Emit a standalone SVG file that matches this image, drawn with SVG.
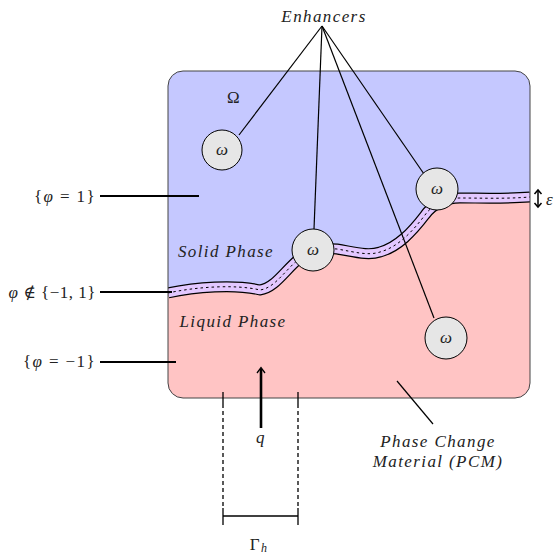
<svg xmlns="http://www.w3.org/2000/svg" width="554" height="556" viewBox="0 0 554 556">
<style>
text{font-family:"Liberation Serif","DejaVu Serif",serif;font-size:17px;fill:#222;letter-spacing:1.4px}
.it{font-style:italic}
.ln{stroke:#000;stroke-width:1.2;fill:none}
.thk{stroke:#000;stroke-width:2;fill:none}
.enh circle{fill:#e6e6e6;stroke:#000;stroke-width:1}
.enh text{letter-spacing:0}
</style>
<defs>
<clipPath id="box"><rect x="168" y="71" width="362" height="327" rx="15"/></clipPath>
</defs>
<g id="domain">
<rect x="168" y="71" width="362" height="327" rx="15" fill="#c5c8ff"/>
<g clip-path="url(#box)">
<path d="M168,293 C195,287 235,284 260,290 C275,288 285,270 300,258 C310,250 322,248 337,249 C355,252 368,256 380,252 C398,247 412,232 425,215 C432,205 445,198 460,198 C480,198 505,199 530,197 L530,400 L168,400 Z" fill="#ffc4c4"/>
<path d="M168,293 C195,287 235,284 260,290 C275,288 285,270 300,258 C310,250 322,248 337,249 C355,252 368,256 380,252 C398,247 412,232 425,215 C432,205 445,198 460,198 C480,198 505,199 530,197" fill="none" stroke="#000" stroke-width="11"/>
<path d="M168,293 C195,287 235,284 260,290 C275,288 285,270 300,258 C310,250 322,248 337,249 C355,252 368,256 380,252 C398,247 412,232 425,215 C432,205 445,198 460,198 C480,198 505,199 530,197" fill="none" stroke="#e3c8ff" stroke-width="8.6"/>
<path d="M168,293 C195,287 235,284 260,290 C275,288 285,270 300,258 C310,250 322,248 337,249 C355,252 368,256 380,252 C398,247 412,232 425,215 C432,205 445,198 460,198 C480,198 505,199 530,197" fill="none" stroke="#000" stroke-width="1" stroke-dasharray="2.5,3"/>
</g>
<rect x="168" y="71" width="362" height="327" rx="15" fill="none" stroke="#444" stroke-width="1"/>
<text x="234" y="103" text-anchor="middle">Ω</text>
<text class="it" x="226" y="257" text-anchor="middle">Solid Phase</text>
<text class="it" x="233" y="327" text-anchor="middle">Liquid Phase</text>
</g>
<g id="connectors">
<line class="ln" x1="322" y1="26" x2="239" y2="135"/>
<line class="ln" x1="322" y1="26" x2="314" y2="229"/>
<line class="ln" x1="322" y1="26" x2="424" y2="174"/>
<line class="ln" x1="322" y1="26" x2="434" y2="318"/>
<line class="thk" x1="100" y1="196" x2="199" y2="196"/>
<line class="thk" x1="100" y1="292" x2="172" y2="292"/>
<line class="thk" x1="100" y1="362" x2="176" y2="362"/>
<line class="ln" x1="397" y1="381" x2="433" y2="424"/>
<line x1="261" y1="428" x2="261" y2="369" stroke="#000" stroke-width="2.6"/>
<path d="M257,373 L261,367.5 L265,373" fill="none" stroke="#000" stroke-width="1.3"/>
<line x1="538" y1="191" x2="538" y2="206" stroke="#000" stroke-width="1.5"/>
<path d="M534.5,194 L538,190 L541.5,194 M534.5,203 L538,207 L541.5,203" fill="none" stroke="#000" stroke-width="1.5"/>
<g stroke="#000" stroke-width="1.3">
<line x1="223" y1="392" x2="223" y2="404"/>
<line x1="298" y1="392" x2="298" y2="404"/>
<line x1="223" y1="404" x2="223" y2="508" stroke-dasharray="4,3"/>
<line x1="298" y1="404" x2="298" y2="508" stroke-dasharray="4,3"/>
<line x1="223" y1="508" x2="223" y2="525"/>
<line x1="298" y1="508" x2="298" y2="525"/>
<line x1="223" y1="516" x2="298" y2="516"/>
</g>
</g>
<g id="enhancers" class="enh">
<g id="w1"><circle cx="222" cy="150" r="20"/><text class="it" x="222" y="155" text-anchor="middle">ω</text></g>
<g id="w2"><circle cx="313" cy="250" r="21"/><text class="it" x="313" y="255" text-anchor="middle">ω</text></g>
<g id="w3"><circle cx="437" cy="189" r="21"/><text class="it" x="437" y="194" text-anchor="middle">ω</text></g>
<g id="w4"><circle cx="446" cy="338" r="21"/><text class="it" x="446" y="343" text-anchor="middle">ω</text></g>
</g>
<g id="labels">
<text class="it" x="324" y="22" text-anchor="middle">Enhancers</text>
<text x="96" y="202" text-anchor="end">{<tspan class="it">φ</tspan> = 1}</text>
<text x="96" y="298" text-anchor="end" style="letter-spacing:0.5px"><tspan class="it">φ</tspan> ∉ {−1, 1}</text>
<text x="96" y="367" text-anchor="end">{<tspan class="it">φ</tspan> = −1}</text>
<text class="it" x="261" y="443" text-anchor="middle">q</text>
<text x="546" y="205" class="it">ε</text>
<text class="it" x="438" y="447" text-anchor="middle">Phase Change</text>
<text class="it" x="438" y="467" text-anchor="middle">Material (PCM)</text>
<text x="259" y="550" text-anchor="middle">Γ<tspan class="it" font-size="12" dy="2">h</tspan></text>
</g>
</svg>
